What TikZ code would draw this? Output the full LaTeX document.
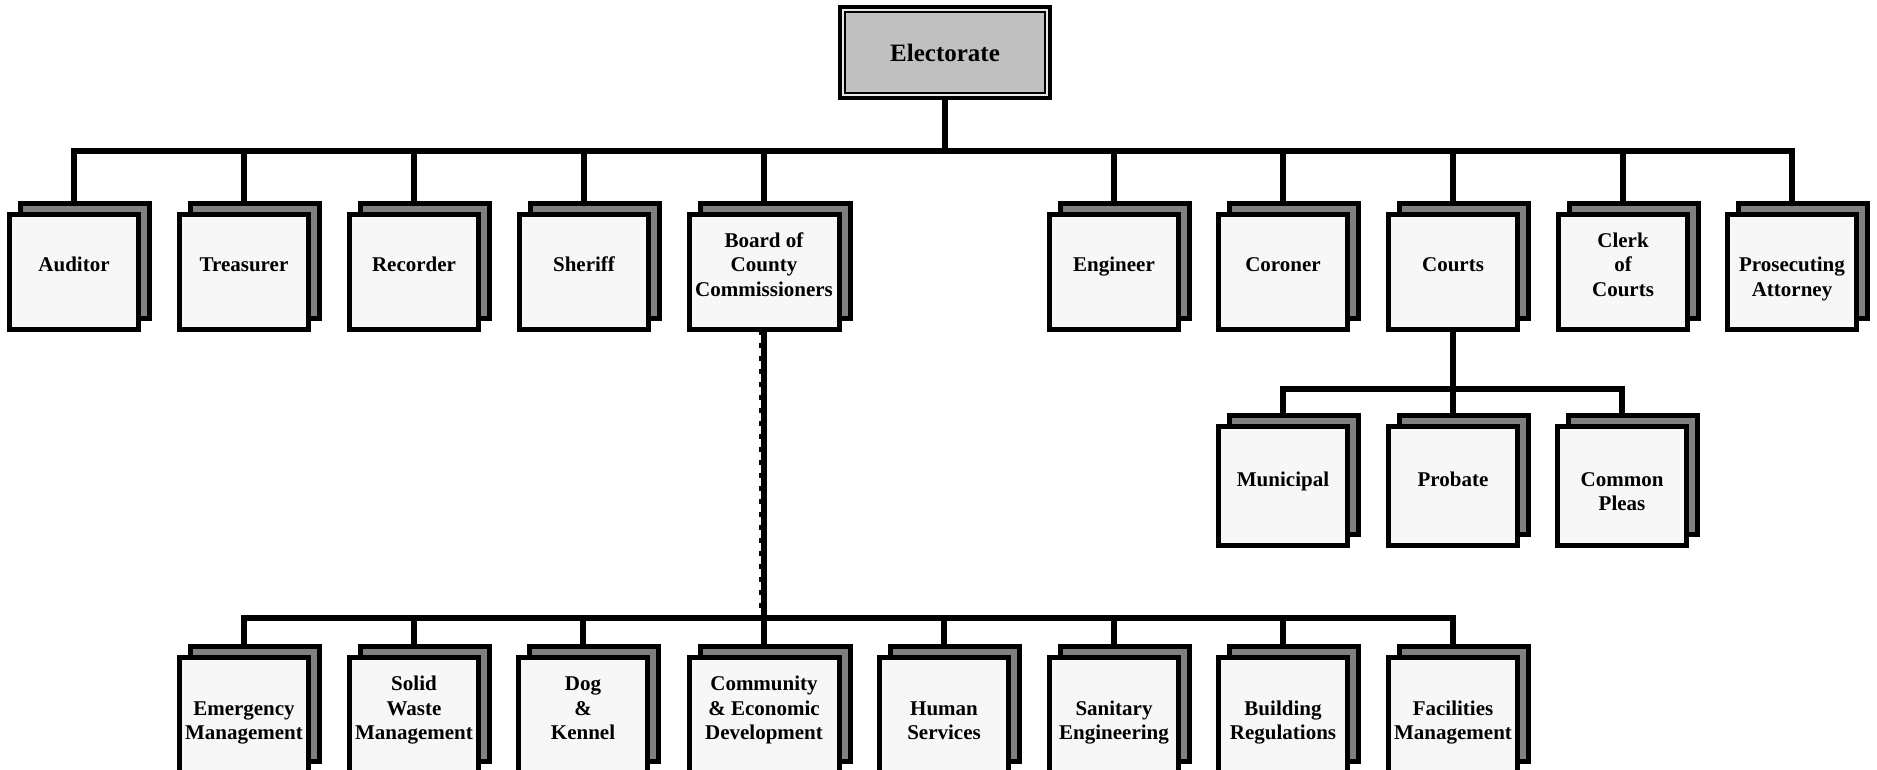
\documentclass[tikz,border=0pt]{standalone}
\usepackage{fontspec}
\setmainfont{Liberation Serif}
\definecolor{frontfill}{HTML}{F7F7F7}
\definecolor{shadefill}{HTML}{808080}
\definecolor{elecfill}{HTML}{C0C0C0}
\definecolor{elecgap}{HTML}{E8E8E8}
\newcommand\boxtext[1]{\begin{tabular}[t]{@{}c@{}}#1\end{tabular}}
\newcommand\orgbox[7]{%
  \node[shadowbox, minimum width=#4pt, minimum height=#5pt] (#1S) at (#2+11, #3-11) {};
  \node[frontbox, #6, minimum width=#4pt, minimum height=#5pt] (#1) at (#2, #3) {\boxtext{#7}};
}
\begin{document}
\begin{tikzpicture}[x=1pt, y=-1pt,
  shadowbox/.style={draw, line width=5pt, fill=shadefill, inner sep=0pt, outer sep=0pt},
  frontbox/.style={draw, line width=5pt, fill=frontfill, inner sep=0pt, outer sep=0pt,
    font=\fontsize{21pt}{24.5pt}\selectfont\bfseries},
  one/.style={text height=17pt, text depth=17pt},
  three/.style={text height=17pt, text depth=66pt},
  conn/.style={line width=5.5pt, line join=miter},
]
\useasboundingbox (0,0) rectangle (1877,770);

% Electorate
\node[draw, line width=4pt, fill=elecgap, minimum width=210pt, minimum height=91pt,
      inner sep=0pt, outer sep=0pt] (elec) at (945,52.5) {};
\node[draw, line width=2pt, fill=elecfill, minimum width=200pt, minimum height=81pt,
      inner sep=0pt, font=\fontsize{25pt}{30pt}\selectfont\bfseries] (elecin) at (945,52.5) {Electorate};

\coordinate (tb) at (0,151);
\coordinate (cb) at (0,389);
\coordinate (bb) at (0,618);

% top row
\orgbox{aud}{74}{272}{129}{115}{one}{Auditor}
\orgbox{tre}{244}{272}{129}{115}{one}{Treasurer}
\orgbox{rec}{414}{272}{129}{115}{one}{Recorder}
\orgbox{she}{584}{272}{129}{115}{one}{Sheriff}
\orgbox{boa}{764}{272}{150}{115}{three}{Board of\\County\\Commissioners}
\orgbox{eng}{1114}{272}{129}{115}{one}{Engineer}
\orgbox{cor}{1283}{272}{129}{115}{one}{Coroner}
\orgbox{cou}{1453}{272}{129}{115}{one}{Courts}
\orgbox{cle}{1623}{272}{129}{115}{three}{Clerk\\of\\Courts}
\orgbox{pro}{1792}{272}{129}{115}{one}{Prosecuting\\Attorney}

% courts row
\orgbox{mun}{1283}{486}{129}{119}{one}{Municipal}
\orgbox{prb}{1453}{486}{129}{119}{one}{Probate}
\orgbox{cpl}{1622}{486}{129}{119}{one}{Common\\Pleas}

% bottom row
\orgbox{eme}{244}{715}{129}{115}{one}{Emergency\\Management}
\orgbox{sol}{414}{715}{129}{115}{three}{Solid\\Waste\\Management}
\orgbox{dog}{583}{715}{129}{115}{three}{Dog\\\&\\Kennel}
\orgbox{cmd}{764}{715}{150}{115}{three}{Community\\\& Economic\\Development}
\orgbox{hum}{944}{715}{129}{115}{one}{Human\\Services}
\orgbox{san}{1114}{715}{129}{115}{one}{Sanitary\\Engineering}
\orgbox{bui}{1283}{715}{129}{115}{one}{Building\\Regulations}
\orgbox{fac}{1453}{715}{129}{115}{one}{Facilities\\Management}

% connectors: electorate level
\draw[conn] (elec.south) -- (elec.south |- tb);
\draw[conn] (aud.north |- audS.north) -- (aud.north |- tb) -- (pro.north |- tb) -- (pro.north |- proS.north);
\foreach \n in {tre,rec,she,boa,eng,cor,cou,cle}
  \draw[conn] (\n.north |- tb) -- (\n.north |- \n S.north);

% courts
\draw[conn] (cou.south) -- (cou.south |- cb);
\draw[conn] (mun.north |- munS.north) -- (mun.north |- cb) -- (cpl.north |- cb) -- (cpl.north |- cplS.north);
\draw[conn] (prb.north |- cb) -- (prb.north |- prbS.north);

% board of commissioners
\draw[conn] (boa.south) -- (cmd.north |- cmdS.north);
\draw[line width=2pt, dash pattern=on 5pt off 8pt] ([xshift=-3.75pt]boa.south) -- ([xshift=-3.75pt]boa.south |- bb);
\draw[conn] (eme.north |- emeS.north) -- (eme.north |- bb) -- (fac.north |- bb) -- (fac.north |- facS.north);
\foreach \n in {sol,dog,hum,san,bui}
  \draw[conn] (\n.north |- bb) -- (\n.north |- \n S.north);
\end{tikzpicture}
\end{document}
